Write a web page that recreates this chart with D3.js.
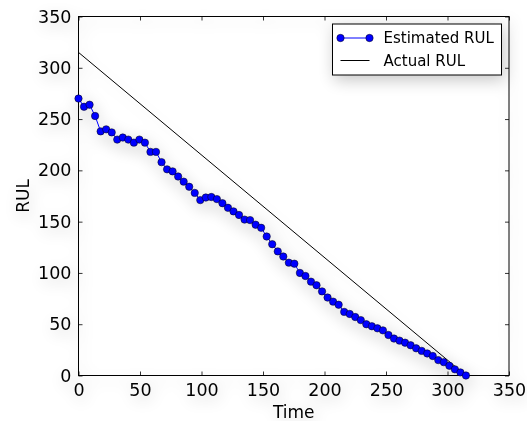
<!DOCTYPE html>
<html>
<head>
<meta charset="utf-8">
<script src="https://cdn.jsdelivr.net/npm/d3@7"></script>
<style>
  body { margin: 0; background: #fff; }
  svg { font-family: "DejaVu Sans", sans-serif; }
</style>
</head>
<body>
<div id="chart"></div>
<script>
// estimated RUL samples
var times = [0, 4.5, 9, 13.5, 18, 22.5, 27, 31.5, 36, 40.5, 45, 49.5, 54, 58.5, 63, 67.5, 72, 76.5,
  81, 85.5, 90, 94.5, 99, 103.5, 108, 112.5, 117, 121.5, 126, 130.5, 135, 139.5, 144, 148.5,
  153, 157.5, 162, 166.5, 171, 175.5, 180, 184.5, 189, 193.5, 198, 202.5, 207, 211.5, 216,
  220.5, 225, 229.5, 234, 238.5, 243, 247.5, 252, 256.5, 261, 265.5, 270, 274.5, 279, 283.5,
  288, 292.5, 297, 301.5, 306, 310.5, 315];
var estimated = [270, 262, 264, 253, 238, 240, 237, 230, 232, 230, 227, 230, 227, 218, 218, 208, 201, 199,
  194, 189, 184, 178, 171, 173.5, 174, 172, 168, 163.5, 160, 156.5, 152, 151.5, 147, 144,
  135.5, 128, 121, 116, 110, 109, 100, 97, 91.5, 88, 82, 76, 72, 69, 62,
  60, 57, 54, 50, 48, 46, 44, 39.5, 36, 34, 32, 29.5, 26.5, 24, 21.5,
  19, 15, 13, 9.5, 6, 3, 0];
// actual RUL: straight line end points
var actualTimes = [0, 315];
var actual = [315, 0];
var ticks = [0, 50, 100, 150, 200, 250, 300, 350];

var margin = { top: 16.5, right: 18, bottom: 45.5, left: 78.5 },
  width = 527 - margin.left - margin.right,
  height = 421 - margin.top - margin.bottom;

var svg = d3.select("#chart").append("svg")
  .attr("width", 527)
  .attr("height", 421);

// soft grey halo, like the reference
var defs = svg.append("defs");
var f = defs.append("filter").attr("id", "shade")
  .attr("x", "-20%").attr("y", "-20%").attr("width", "140%").attr("height", "140%");
f.append("feGaussianBlur").attr("in", "SourceAlpha").attr("stdDeviation", 8).attr("result", "b");
f.append("feOffset").attr("in", "b").attr("dx", 2).attr("dy", 5).attr("result", "o");
f.append("feComponentTransfer").attr("in", "o").attr("result", "s")
  .append("feFuncA").attr("type", "linear").attr("slope", 0.22);
var fm = f.append("feMerge");
fm.append("feMergeNode").attr("in", "s");
fm.append("feMergeNode").attr("in", "SourceGraphic");

var root = svg.append("g").attr("filter", "url(#shade)");
var g = root.append("g")
  .attr("transform", `translate(${margin.left},${margin.top})`);

var x = d3.scaleLinear().domain([0, 350]).range([0, width]);
var y = d3.scaleLinear().domain([0, 350]).range([height, 0]);

// ticks inside on all four sides
var tickLen = 4;
g.append("g").attr("transform", `translate(0,${height})`)
  .call(d3.axisBottom(x).tickValues(ticks).tickSize(-tickLen).tickPadding(8).tickSizeOuter(0));
g.append("g")
  .call(d3.axisTop(x).tickValues(ticks).tickSize(-tickLen).tickFormat("").tickSizeOuter(0));
g.append("g")
  .call(d3.axisLeft(y).tickValues(ticks).tickSize(-tickLen).tickPadding(7).tickSizeOuter(0));
g.append("g").attr("transform", `translate(${width},0)`)
  .call(d3.axisRight(y).tickValues(ticks).tickSize(-tickLen).tickFormat("").tickSizeOuter(0));

g.selectAll(".domain").remove();
g.selectAll(".tick line").attr("stroke", "#000").attr("stroke-width", 0.8);
g.selectAll(".tick text")
  .attr("fill", "#000")
  .style("font-size", "17.5px")
  .style("font-family", "DejaVu Sans");

g.append("rect")
  .attr("width", width).attr("height", height)
  .attr("fill", "none").attr("stroke", "#000").attr("stroke-width", 1);

// actual RUL
var line = d3.line().x(d => x(d[0])).y(d => y(d[1]));
g.append("path")
  .datum(actualTimes.map((t, i) => [t, actual[i]]))
  .attr("d", line)
  .attr("fill", "none").attr("stroke", "#000").attr("stroke-width", 1);

// estimated RUL
var est = times.map((t, i) => [t, estimated[i]]);
g.append("path")
  .datum(est)
  .attr("d", line)
  .attr("fill", "none").attr("stroke", "#0000ff").attr("stroke-width", 1);
g.selectAll(".dot")
  .data(est)
  .enter().append("circle")
  .attr("class", "dot")
  .attr("cx", d => x(d[0]))
  .attr("cy", d => y(d[1]))
  .attr("r", 3.7)
  .attr("fill", "#0000ff")
  .attr("stroke", "#000").attr("stroke-width", 0.5);

// axis titles
g.append("text")
  .attr("x", width / 2).attr("y", height + 42)
  .attr("text-anchor", "middle")
  .style("font-size", "17px")
  .text("Time");
g.append("text")
  .attr("transform", `translate(${-50},${height / 2}) rotate(-90)`)
  .attr("text-anchor", "middle")
  .style("font-size", "17px")
  .text("RUL");

// legend
var lg = g.append("g").attr("transform", `translate(${332.5 - margin.left},${24 - margin.top})`);
lg.append("rect")
  .attr("width", 169).attr("height", 51)
  .attr("fill", "#fff").attr("stroke", "#000").attr("stroke-width", 1);
var ly1 = 14, ly2 = 36.5;
lg.append("line").attr("x1", 8).attr("x2", 37).attr("y1", ly1).attr("y2", ly1)
  .attr("stroke", "#0000ff").attr("stroke-width", 1);
lg.selectAll(".lgdot").data([8, 37]).enter().append("circle")
  .attr("cx", d => d).attr("cy", ly1).attr("r", 3.7)
  .attr("fill", "#0000ff").attr("stroke", "#000").attr("stroke-width", 0.5);
lg.append("line").attr("x1", 8).attr("x2", 37).attr("y1", ly2).attr("y2", ly2)
  .attr("stroke", "#000").attr("stroke-width", 1);
lg.append("text").attr("x", 51).attr("y", ly1).attr("dy", "0.35em")
  .style("font-size", "15px").text("Estimated RUL");
lg.append("text").attr("x", 51).attr("y", ly2).attr("dy", "0.35em")
  .style("font-size", "15px").text("Actual RUL");
</script>
</body>
</html>
